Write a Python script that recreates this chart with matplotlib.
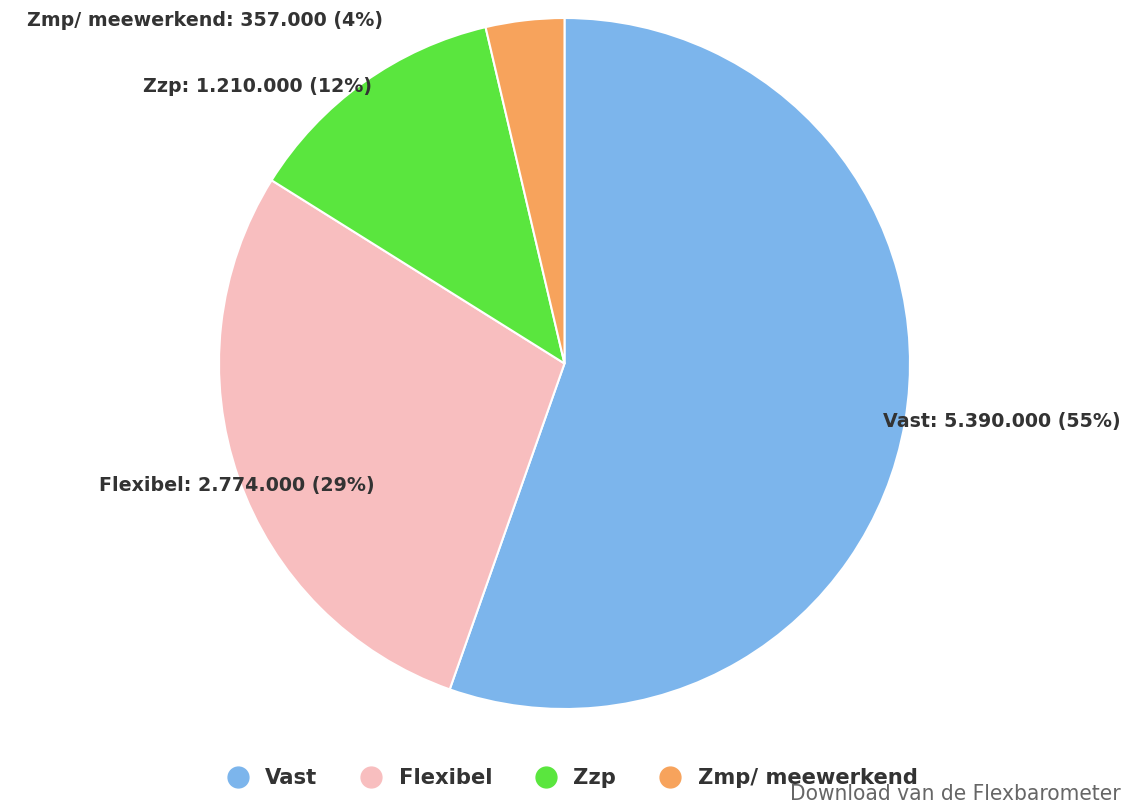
import matplotlib
matplotlib.use("Agg")
import matplotlib.pyplot as plt
from matplotlib.lines import Line2D

# data
categorieen = ["Vast", "Flexibel", "Zzp", "Zmp/ meewerkend"]
aantallen = [5390000, 2774000, 1210000, 357000]
kleuren = ["#7cb5ec", "#f8bebf", "#5ae63e", "#f7a35c"]

plt.rcParams['font.family'] = ['DejaVu Sans']

W, H = 1124, 807
fig = plt.figure(figsize=(W / 100, H / 100), dpi=100)
ax = fig.add_axes([0, 0, 1, 1])

cx, cy, r = 564.5, H - 363.5, 345.5
wedges, _ = ax.pie(aantallen, colors=kleuren, startangle=90, counterclock=False,
                   center=(cx, cy), radius=r, frame=True,
                   wedgeprops=dict(edgecolor='white', linewidth=1.5))
ax.set_xlim(0, W)
ax.set_ylim(0, H)
ax.set_aspect('equal')
ax.axis('off')

totaal = sum(aantallen)


def fmt(v):
    return f"{v:,}".replace(",", ".")


# label plaatsen (x, y in pixels, uitlijning)
plekken = [(883, 421, 'left'), (375, 485, 'right'), (372, 87, 'right'), (383, 20, 'right')]
for cat, val, (x, y, ha) in zip(categorieen, aantallen, plekken):
    pct = round(val / totaal * 100)
    ax.text(x, H - y, f"{cat}: {fmt(val)} ({pct}%)", ha=ha, va='center',
            fontsize=13.7, fontweight='bold', color='#333333', zorder=5)

handles = [Line2D([], [], marker='o', linestyle='none', markersize=15,
                  markerfacecolor=k, markeredgecolor=k) for k in kleuren]
fig.legend(handles, categorieen, loc='center', bbox_to_anchor=(567 / W, 1 - 778 / H),
           ncol=4, frameon=False, handletextpad=0.3, columnspacing=1.55,
           prop=dict(family='DejaVu Sans', weight='bold', size=15.2),
           labelcolor='#333333')

fig.text(1121 / W, 1 - 794 / H, "Download van de Flexbarometer", ha='right', va='center',
         fontsize=16.2, color='#666666', family='DejaVu Sans', stretch='condensed')

fig.savefig("out.png", dpi=100)
